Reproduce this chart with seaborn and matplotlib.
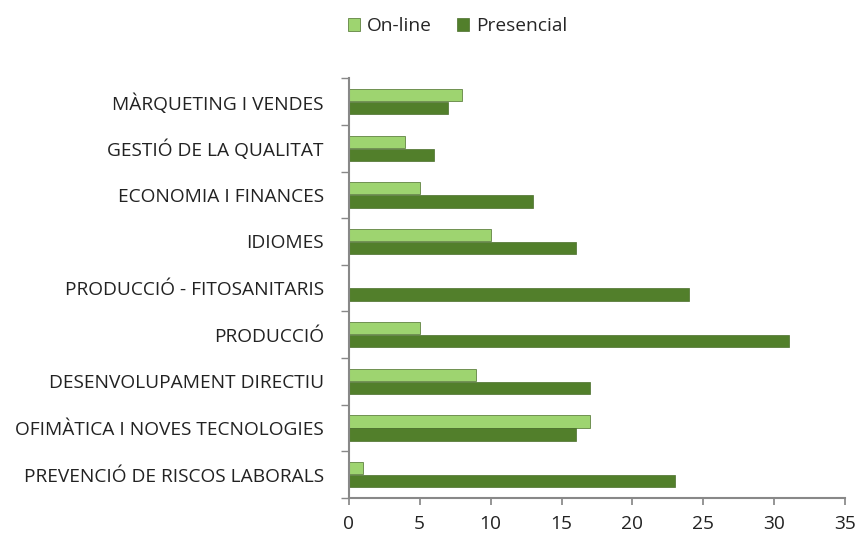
import matplotlib
matplotlib.use("Agg")
import matplotlib.pyplot as plt
import seaborn as sns
import pandas as pd
import numpy as np

categories = ["MÀRQUETING I VENDES", "GESTIÓ DE LA QUALITAT", "ECONOMIA I FINANCES",
              "IDIOMES", "PRODUCCIÓ - FITOSANITARIS", "PRODUCCIÓ",
              "DESENVOLUPAMENT DIRECTIU", "OFIMÀTICA I NOVES TECNOLOGIES",
              "PREVENCIÓ DE RISCOS LABORALS"]
online = [8, 4, 5, 10, 0, 5, 9, 17, 1]
presencial = [7, 6, 13, 16, 24, 31, 17, 16, 23]
series = ["On-line", "Presencial"]
xticks = [0, 5, 10, 15, 20, 25, 30, 35]

df = pd.DataFrame({
    "cat": categories * 2,
    "val": online + presencial,
    "serie": [series[0]] * len(categories) + [series[1]] * len(categories),
})

sns.set_theme(style="white")
plt.rcParams["font.family"] = ["Open Sans", "DejaVu Sans"]

fs = 13.8
fig = plt.figure(figsize=(8.59, 5.36), dpi=100)
ax = fig.add_axes([0.406, 0.071, 0.578, 0.783])

palette = {"On-line": "#9ED470", "Presencial": "#527F2B"}
sns.barplot(data=df, y="cat", x="val", hue="serie", hue_order=series,
            palette=palette, orient="h", width=0.56, gap=0.06, ax=ax,
            edgecolor="#4A6E2A", linewidth=0.5, saturation=1)

ax.set_xlim(0, 35)
ax.set_xticks(xticks)
ax.set_ylim(len(categories) - 0.5, -0.5)
ax.set_xlabel("")
ax.set_ylabel("")
ax.tick_params(axis="x", labelsize=fs, length=5, color="#888888", direction="out",
               bottom=True, pad=7, labelcolor="#222222")
ax.tick_params(axis="y", labelsize=fs, length=0, pad=18, labelcolor="#222222")
ax.set_yticks(np.arange(len(categories) + 1) - 0.5, minor=True)
ax.tick_params(axis="y", which="minor", length=6, color="#888888", left=True)
for s in ["top", "right"]:
    ax.spines[s].set_visible(False)
for s in ["left", "bottom"]:
    ax.spines[s].set_color("#888888")
    ax.spines[s].set_linewidth(1.5)

leg = ax.legend(loc="upper center", bbox_to_anchor=(0.533, 1.0),
                bbox_transform=fig.transFigure, ncol=2, frameon=False,
                fontsize=fs, handlelength=0.6, handleheight=0.6,
                handletextpad=0.4, columnspacing=1.3)

fig.savefig("out.png", dpi=100)
